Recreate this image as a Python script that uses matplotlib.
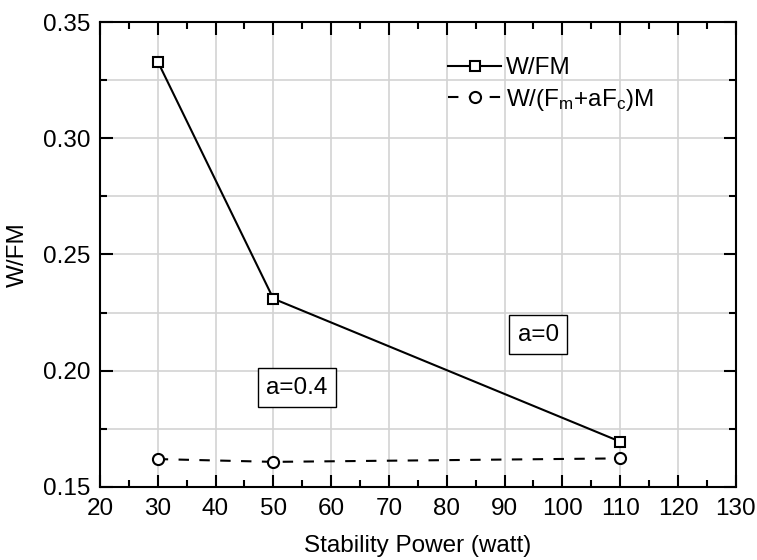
import matplotlib
matplotlib.use("Agg")
import matplotlib.pyplot as plt
from matplotlib.ticker import MultipleLocator, FormatStrFormatter

plt.rcParams['font.family'] = ['Liberation Sans', 'DejaVu Sans']
plt.rcParams['mathtext.fontset'] = 'custom'
plt.rcParams['mathtext.rm'] = 'Liberation Sans'
plt.rcParams['mathtext.it'] = 'Liberation Sans'

power = [30, 50, 110]
w_fm = [0.333, 0.231, 0.1695]
w_fm_ac = [0.162, 0.1608, 0.1623]

FS = 17.5

fig = plt.figure(figsize=(7.57, 5.6), dpi=100)
ax = fig.add_axes([0.132, 0.1304, 0.840, 0.8303])

ax.plot(power, w_fm, '-', color='black', lw=1.5, marker='s', ms=7,
        mfc='white', mec='black', mew=1.5, label='W/FM')
ax.plot(power, w_fm_ac, '--', color='black', lw=1.5, marker='o', ms=8,
        mfc='white', mec='black', mew=1.5, dashes=(5, 5),
        label=r'W/(F$_\mathregular{m}$+aF$_\mathregular{c}$)M')

ax.set_xlim(20, 130)
ax.set_ylim(0.15, 0.35)
ax.xaxis.set_major_locator(MultipleLocator(10))
ax.xaxis.set_minor_locator(MultipleLocator(5))
ax.yaxis.set_major_locator(MultipleLocator(0.05))
ax.yaxis.set_minor_locator(MultipleLocator(0.025))
ax.yaxis.set_major_formatter(FormatStrFormatter('%.2f'))

ax.grid(True, which='major', axis='x', color='#d3d3d3', lw=1.2)
ax.grid(True, which='both', axis='y', color='#d3d3d3', lw=1.2)
ax.set_axisbelow(True)

for s in ax.spines.values():
    s.set_linewidth(1.5)
ax.tick_params(which='both', direction='in', top=True, right=True, width=1.5,
               labelsize=FS)
ax.tick_params(axis='x', which='major', pad=8)
ax.tick_params(axis='y', which='major', pad=7)
ax.tick_params(which='major', length=9)
ax.tick_params(which='minor', length=5)

ax.set_xlabel('Stability Power (watt)', fontsize=FS, labelpad=11)
ax.set_ylabel('W/FM', fontsize=FS, labelpad=10)

leg = ax.legend(loc='upper left', bbox_to_anchor=(0.532, 0.945), frameon=False,
                fontsize=FS, handlelength=2.2, handletextpad=0.2,
                labelspacing=0.3, borderaxespad=0)

box = dict(boxstyle='square,pad=0.35', fc='white', ec='black', lw=1)
ax.text(54.1, 0.1926, 'a=0.4', fontsize=FS, ha='center', va='center', bbox=box)
ax.text(95.8, 0.2154, 'a=0', fontsize=FS, ha='center', va='center', bbox=box)

fig.savefig('out.png', dpi=100)
